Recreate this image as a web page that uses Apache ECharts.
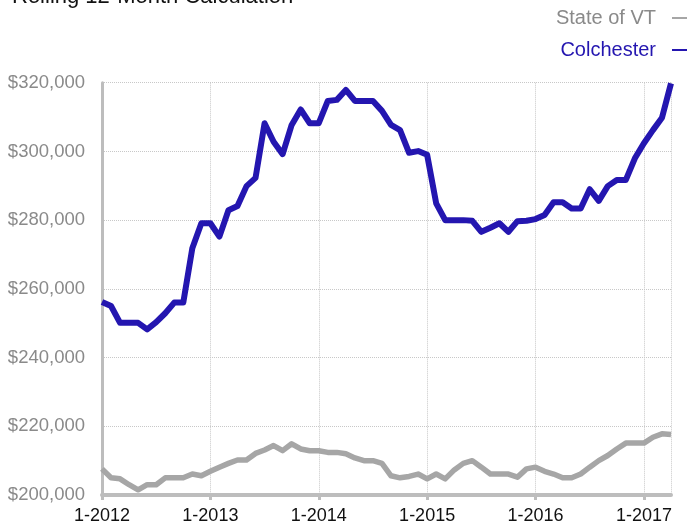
<!DOCTYPE html>
<html>
<head>
<meta charset="utf-8">
<script src="https://cdn.jsdelivr.net/npm/echarts@6/dist/echarts.min.js"></script>
<style>
html,body{margin:0;padding:0;background:#fff;}
#chart{width:689px;height:527px;}
</style>
</head>
<body>
<div id="chart"></div>
<script>
var months = [
  "1-2012","2-2012","3-2012","4-2012","5-2012","6-2012","7-2012","8-2012","9-2012","10-2012","11-2012","12-2012",
  "1-2013","2-2013","3-2013","4-2013","5-2013","6-2013","7-2013","8-2013","9-2013","10-2013","11-2013","12-2013",
  "1-2014","2-2014","3-2014","4-2014","5-2014","6-2014","7-2014","8-2014","9-2014","10-2014","11-2014","12-2014",
  "1-2015","2-2015","3-2015","4-2015","5-2015","6-2015","7-2015","8-2015","9-2015","10-2015","11-2015","12-2015",
  "1-2016","2-2016","3-2016","4-2016","5-2016","6-2016","7-2016","8-2016","9-2016","10-2016","11-2016","12-2016",
  "1-2017","2-2017","3-2017","4-2017"
];
var colchester = [
  256200,255000,250100,250100,250100,248200,250300,252900,256000,256000,271800,279100,
  279100,275200,282900,284100,289900,292300,308200,302800,299200,307700,312200,308200,
  308200,314700,315000,317900,314700,314700,314700,311800,307700,306200,299600,300100,
  299000,284900,280000,280000,280000,279800,276600,277800,279100,276600,279700,279800,
  280300,281500,285200,285200,283400,283400,289000,285600,289900,291700,291700,298000,
  302400,306200,309800,319800
];
var stateVT = [
  207600,205000,204700,203000,201500,203000,203000,205000,205000,205000,206100,205600,
  206900,208100,209200,210200,210200,212100,213100,214400,212900,214900,213400,212900,
  212900,212400,212400,212000,210800,210000,210000,209200,205600,205000,205400,206100,
  204700,206100,204700,207300,209200,210000,208100,206100,206100,206100,205200,207600,
  208100,206900,206100,205000,205000,206100,208100,210000,211500,213400,215100,215100,
  215100,216800,217800,217600
];
var yTicks = {min: 200000, max: 320000, step: 20000};
var titleText = "Rolling 12-Month Calculation";
var seriesNames = ["State of VT", "Colchester"];

var FONT = "'Liberation Sans', Arial, Helvetica, sans-serif";
var BLUE = "#2416b0";
var GRAY = "#a6a6a6";

function money(v) {
  return "$" + String(v).replace(/\B(?=(\d{3})+(?!\d))/g, ",");
}

var chart = echarts.init(document.getElementById("chart"));
chart.setOption({
  animation: false,
  textStyle: {fontFamily: FONT},
  title: {
    text: titleText,
    left: 12, top: -14, padding: 0,
    textStyle: {fontFamily: FONT, fontSize: 22, fontWeight: "normal", color: "#111"}
  },
  legend: {
    orient: "vertical",
    right: 2, top: 8, padding: 0,
    align: "right",
    icon: "rect",
    itemWidth: 15, itemHeight: 2,
    itemGap: 12,
    data: [
      {name: seriesNames[0], textStyle: {color: "#8a8a8a"}},
      {name: seriesNames[1], textStyle: {color: BLUE}}
    ],
    textStyle: {fontFamily: FONT, fontSize: 20, padding: [0, 11, 0, 0]}
  },
  grid: {left: 102, right: 18, top: 82.7, bottom: 32, containLabel: false},
  xAxis: {
    type: "category",
    data: months,
    boundaryGap: false,
    axisLine: {lineStyle: {color: "#bdbdbd", width: 4}},
    axisTick: {
      show: true, length: 5, inside: false,
      interval: function (i) { return i % 12 === 0; },
      lineStyle: {color: "#bdbdbd", width: 3}
    },
    axisLabel: {
      interval: function (i) { return i % 12 === 0; },
      color: "#111", fontSize: 18, fontFamily: FONT, margin: 12
    },
    splitLine: {
      show: true,
      interval: function (i) { return i % 12 === 0 || i === months.length - 1; },
      lineStyle: {color: "#c8c8c8", type: "dotted", width: 1}
    }
  },
  yAxis: {
    type: "value",
    min: yTicks.min, max: yTicks.max, interval: yTicks.step,
    axisLine: {show: true, lineStyle: {color: "#bdbdbd", width: 3}},
    axisTick: {show: false},
    axisLabel: {
      formatter: money, color: "#8a8a8a", fontSize: 18.5, fontFamily: FONT, margin: 17
    },
    splitLine: {show: true, lineStyle: {color: "#c8c8c8", type: "dotted", width: 1}}
  },
  series: [
    {
      name: seriesNames[0], type: "line", data: stateVT,
      symbol: "none", color: GRAY,
      lineStyle: {color: GRAY, width: 5.5, join: "round"}
    },
    {
      name: seriesNames[1], type: "line", data: colchester,
      symbol: "none", color: BLUE,
      lineStyle: {color: BLUE, width: 6, join: "round"}
    }
  ]
});
</script>
</body>
</html>
